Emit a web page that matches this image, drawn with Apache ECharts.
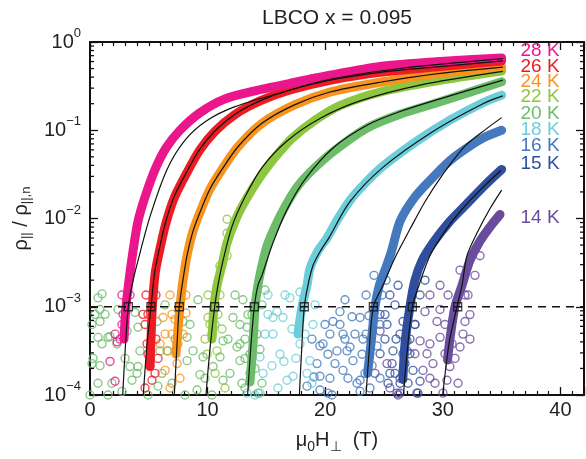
<!DOCTYPE html>
<html><head><meta charset="utf-8">
<script src="https://cdn.jsdelivr.net/npm/echarts@6/dist/echarts.min.js"></script>
<style>html,body{margin:0;padding:0;background:#fff}#c{width:586px;height:459px}</style>
</head><body><div id="c"></div>
<script>
const FONT = '"Liberation Sans", Arial, Helvetica, sans-serif';
const INK = '#231f20';

const temps = ['14 K','15 K','16 K','18 K','20 K','22 K','24 K','26 K','28 K'];
const colors = ['#6a4c9c','#2f4f9e','#4479bd','#6dcedb','#6bbd6a','#8dc63f','#f7941d','#ed1c24','#ec168c'];
const labelY = [0.0101, 0.042, 0.066, 0.102, 0.152, 0.24, 0.357, 0.53, 0.79];

const xTicks = [0, 10, 20, 30, 40];
const yTicks = [1e-4, 1e-3, 1e-2, 1e-1, 1];
const hcX = [31.26, 27.4, 24.09, 18.22, 13.97, 10.6, 7.59, 5.19, 3.26];
const hcY = [1e-3, 1e-3, 1e-3, 1e-3, 1e-3, 1e-3, 1e-3, 1e-3, 1e-3];
const dashX = [0, 42];
const dashY = [1e-3, 1e-3];

// dense data bands [field T, rho ratio]
const band14 = [[30.4,2.5e-4],[30.6,4.3e-4],[31.03,1e-3],[31.63,1.75e-3],[32.3,3.33e-3],[33.16,5.55e-3],[34.18,8.6e-3],[34.86,0.0111]];
const band15 = [[26.6,1.5e-4],[26.78,3.8e-4],[27.2,1e-3],[27.63,2.0e-3],[28.23,3.33e-3],[29.16,5.3e-3],[30.6,9.3e-3],[32.05,0.0147],[33.58,0.0239],[35.0,0.036]];
const band16 = [[23.6,1.76e-4],[23.98,4.9e-4],[24.23,1e-3],[24.6,1.75e-3],[25.08,2.6e-3],[25.6,4.1e-3],[26.36,9.3e-3],[27.63,0.0176],[29.16,0.0293],[30.6,0.0453],[32.05,0.063],[33.58,0.0836],[35.0,0.1]];
const band18 = [[17.68,4.9e-4],[18.02,1e-3],[18.45,1.75e-3],[18.7,2.71e-3],[19.38,4.3e-3],[20.15,6.0e-3],[21.0,0.0095],[22.1,0.016],[23.38,0.025],[24.9,0.039],[27.8,0.0755],[30.6,0.13],[33.4,0.205],[35.0,0.25]];
const band20 = [[13.6,1.4e-4],[13.86,3.8e-4],[14.03,1e-3],[14.28,1.75e-3],[14.62,2.93e-3],[15.05,4.9e-3],[15.73,8.1e-3],[16.58,0.0136],[17.6,0.0227],[18.7,0.0333],[20.66,0.057],[23.55,0.106],[26.36,0.152],[29.76,0.21],[35.0,0.355]];
const band22 = [[10.37,4.3e-4],[10.54,1e-3],[10.8,1.75e-3],[11.22,2.93e-3],[11.65,5.3e-3],[12.5,0.0105],[13.4,0.0176],[14.45,0.0293],[15.7,0.0489],[17.2,0.0815],[19.1,0.129],[21.25,0.19],[24.66,0.271],[29.76,0.369],[35.0,0.47]];
const band24 = [[7.31,2.9e-4],[7.48,5.5e-4],[7.65,1e-3],[7.91,2.0e-3],[8.25,3.8e-3],[8.76,7.2e-3],[9.44,0.0126],[10.2,0.0216],[11.22,0.036],[12.58,0.065],[14.62,0.12],[17.43,0.195],[20.4,0.271],[24.66,0.35],[29.76,0.441],[35.0,0.52]];
const band26 = [[5.10,2.1e-4],[5.2,4.9e-4],[5.3,1e-3],[5.55,2.45e-3],[6.0,4.9e-3],[6.5,9.3e-3],[7.2,0.0176],[8.25,0.0333],[9.35,0.06],[10.63,0.0975],[12.33,0.151],[14.45,0.215],[17.0,0.286],[20.4,0.369],[24.66,0.453],[29.76,0.527],[35.0,0.61]];
const band28 = [[2.89,4.3e-4],[3.06,1e-3],[3.32,2.0e-3],[3.66,4.3e-3],[4.08,9.3e-3],[4.68,0.0176],[5.53,0.036],[6.46,0.063],[7.65,0.1],[9.35,0.158],[11.48,0.227],[14.03,0.28],[17.0,0.34],[20.4,0.42],[24.66,0.527],[29.76,0.60],[35.0,0.66]];

// fitted curves
const fit14 = [[29.99,1e-4],[30.52,3.78e-4],[31.2,1e-3],[31.63,1.75e-3],[32.05,3.78e-3],[32.99,7.2e-3],[34.0,0.0129],[35.0,0.021]];
const fit15 = [[26.65,1e-4],[26.95,2.93e-4],[27.4,1e-3],[27.89,1.63e-3],[28.9,3.78e-3],[30.18,7.2e-3],[31.46,0.012],[33.16,0.021],[34.94,0.035]];
const fit16 = [[23.47,1e-4],[23.72,2.93e-4],[24.09,1e-3],[24.91,1.75e-3],[25.93,3.6e-3],[27.2,7.55e-3],[28.48,0.0155],[30.0,0.0316],[31.9,0.0664],[33.75,0.105],[35.0,0.139]];
const fit18 = [[17.8,1e-4],[18.02,3.78e-4],[18.22,1e-3],[18.53,1.75e-3],[18.96,2.93e-3],[19.6,4.3e-3],[20.3,6.0e-3],[22.1,0.0155],[24.9,0.038],[29.16,0.097],[33.41,0.2],[35.1,0.245]];
const fit20 = [[13.4,1e-4],[13.69,3.78e-4],[13.97,1e-3],[14.28,1.75e-3],[14.62,2.27e-3],[15.56,5.3e-3],[16.75,0.0126],[18.28,0.0278],[20.66,0.063],[23.55,0.114],[26.36,0.163],[29.76,0.227],[35.1,0.37]];
const fit22 = [[9.86,1e-4],[10.2,3.33e-4],[10.6,1e-3],[10.88,1.75e-3],[11.31,3.33e-3],[12.07,8.1e-3],[13.18,0.0176],[14.62,0.0378],[16.75,0.0755],[19.55,0.136],[22.96,0.215],[28.06,0.325],[35.1,0.464]];
const fit24 = [[7.17,1e-4],[7.4,3.78e-4],[7.59,1e-3],[7.9,2.0e-3],[8.25,3.8e-3],[8.76,7.2e-3],[9.44,0.0126],[10.2,0.0216],[11.22,0.036],[12.58,0.065],[14.62,0.12],[17.43,0.195],[20.4,0.271],[24.66,0.35],[29.76,0.441],[35.1,0.52]];
const fit26 = [[4.53,1e-4],[4.85,3.78e-4],[5.19,1e-3],[5.5,2.45e-3],[5.95,4.9e-3],[6.45,9.3e-3],[7.15,0.0176],[8.2,0.0333],[9.3,0.06],[10.6,0.0975],[12.3,0.151],[14.45,0.215],[17.0,0.286],[20.4,0.369],[24.66,0.453],[29.76,0.527],[35.1,0.61]];
const fit28 = [[2.78,1e-4],[3.02,3.78e-4],[3.26,1e-3],[3.57,1.75e-3],[4.08,3.33e-3],[5.10,0.0105],[6.55,0.036],[8.08,0.0775],[9.95,0.129],[12.33,0.185],[16.15,0.264],[20.4,0.378],[26.36,0.501],[35.1,0.647]];

// scattered low-level points
const noise14 = [[28.06,4.1e-4],[28.65,2.93e-4],[29.16,2.27e-4],[28.31,1.9e-4],[29.76,4.5e-4],[29.5,6.8e-4],[30.6,2.1e-4],[31.46,3.5e-4],[31.71,4.9e-4],[31.88,6.8e-4],[30.35,1.47e-4],[30.01,1.05e-4],[28.48,8.8e-4],[29.33,1.36e-4],[24.66,5.3e-4],[25.25,2.27e-4],[26.95,3.16e-4],[26.36,1.05e-4],[24.23,1.76e-4],[26.19,1e-4],[26.36,1.55e-4],[27.63,6.3e-4],[28.9,1.36e-3],[29.76,1.75e-3],[32.14,1.36e-3],
  [30.18,6.3e-4],[30.78,3.8e-4],[30.44,1.36e-3],[31.88,1.36e-3],[32.3,8.15e-4],[31.46,2.6e-3],[32.73,2.27e-3],[33.16,3.78e-3],[29.76,9.3e-4],[31.03,2.6e-4],
  [27.63,2.93e-4],[28.9,3.8e-4],[30.18,2.93e-4],[28.9,1.55e-4],[31.29,1.36e-4],[32.3,4.3e-4],[27.89,1.05e-4],[25.5,1.2e-4]];
const noise15 = [[25.25,6.3e-4],[25.76,3.16e-4],[25.5,1.76e-4],[26.36,1.36e-4],[26.1,1.05e-4],[26.61,6.8e-4],[26.95,4.1e-4],[27.2,2.93e-4],[27.46,1.9e-4],[28.06,1.43e-4],[27.8,1.05e-4],[26.78,2.27e-4],[25.93,1.05e-3],[25.08,4.3e-4],[24.66,2.93e-4],
  [25.5,1.36e-3],[26.19,1.75e-3],[25.08,8.15e-4],[26.36,4.9e-4],[25.68,2.27e-4],[27.63,6.3e-4],[28.06,1.36e-3],[28.48,2.0e-3],[27.2,4.3e-4],[25.34,1.36e-4],
  [26.02,4.3e-4],[26.61,2.93e-4],[25.93,1.76e-4],[27.04,1.36e-4],[24.66,8.2e-4]];
const noise16 = [[19.3,2.27e-4],[19.55,1.63e-4],[19.81,3.8e-4],[20.4,4.9e-4],[21.0,3.16e-4],[21.25,6.3e-4],[21.51,1.9e-4],[21.25,8.8e-4],[22.1,3.5e-4],[22.36,2.45e-4],[22.7,1.36e-4],[20.23,1.05e-4],[18.45,1.26e-4],[22.96,7.55e-4],[20.66,6.8e-4],[19.55,1.14e-4],[20.57,1e-4],[19.04,1.6e-4],[20.4,1.55e-4],[19.55,3.6e-4],[21.85,3.16e-4],[22.28,7.7e-4],[21.51,4.9e-4],[22.96,1.47e-4],[23.38,1.76e-4],[23.8,1.2e-4],[23.13,2.9e-4],[23.47,4.9e-4],
  [23.47,1.36e-3],[23.72,7.9e-4],[24.66,6.3e-4],[23.21,4.3e-4],[24.4,3.6e-4],[23.98,2.15e-4],[24.66,1.55e-4],[22.96,1.1e-4],[24.83,1.36e-3],[25.17,2.0e-3],[24.15,2.27e-3],
  [18.87,4.3e-4],[19.98,6.3e-4],[21.68,4.3e-4],[20.83,2.27e-4],[21.93,1.55e-4],[22.53,4.9e-4],[20.23,2.9e-4],[21.68,1.2e-3]];
const noise18 = [[15.56,7.55e-4],[16.41,7.55e-4],[15.56,4.9e-4],[16.15,2.9e-4],[15.47,2.15e-4],[16.49,2.4e-4],[16.75,1.47e-4],[18.7,2.45e-4],[18.45,1.76e-4],[17.26,1.63e-4],[17.85,3.8e-4],[18.96,6.3e-4],[14.45,2.7e-4],[14.45,1.05e-4],[13.35,1.05e-4],[17.0,1.26e-3],[17.85,1.47e-3],[15.9,8.8e-4],[14.03,1e-4],[14.88,4.9e-4],[15.13,1.36e-3],
  [15.13,8.2e-4],[17.17,5.6e-4],[18.28,4.9e-4],[17.51,2.6e-4],[18.87,1.36e-4],[15.98,1.2e-4],[14.71,1.76e-4],[19.13,1.05e-3],[16.58,1.36e-3]];
const noise20 = [[0.68,1.26e-3],[0.85,9.3e-4],[0.85,6.8e-4],[0.68,4.5e-4],[1.02,3.8e-4],[0.26,2.6e-4],[0.85,2.15e-4],[0.68,1.36e-4],[1.53,1e-4],[1.53,4.5e-4],[2.30,3.8e-4],[3.40,2.1e-4],[3.57,1.47e-4],[4.08,5.85e-4],[4.25,3.16e-4],[4.08,2.1e-4],[5.70,6.8e-4],[5.95,3.16e-4],[6.12,1.76e-4],[5.78,1.26e-4],[4.93,1e-4],[6.55,3.16e-4],[6.97,1.36e-4],[8.25,2.45e-4],[8.25,4.5e-4],[8.76,3.16e-4],[9.35,1.7e-4],[9.10,1.14e-4],[7.91,6.8e-4],[9.61,2.7e-4],[10.46,2.1e-4],[11.05,2.7e-4],[11.31,1.47e-4],[11.31,4.1e-4],[12.16,7.55e-4],[12.50,3.5e-4],[12.75,2.45e-4],[11.90,1.76e-4],[12.92,1.36e-4],[13.35,5.85e-4],[0.17,6.3e-4],[1.02,1.4e-3],[0.17,2.27e-4],[1.70,4.6e-4],[4.0,1.76e-4],[3.15,5.3e-4],[13.18,4.3e-4],[13.6,2.9e-4],[14.03,2.0e-4],[13.18,1.2e-4],[14.28,1.05e-4],[14.62,1.36e-4],[12.75,6.3e-4],[13.77,8.2e-4],
  [13.0,1.2e-3],[13.43,8.15e-4],[14.62,1.05e-3],[14.88,1.55e-3],[13.18,2.6e-4],[14.2,4.9e-4],[13.6,1.76e-4],[12.75,3.8e-4],[14.45,3.3e-4],
  [0.43,8.2e-4],[1.28,8.2e-4],[2.38,9.3e-4],[2.98,2.6e-4],[6.38,1.05e-3],[7.23,4.3e-4],[8.5,6.3e-4],[9.18,1.2e-3],[9.78,1.55e-4],[10.63,6.3e-4],[11.73,4.3e-4],[12.33,1.36e-3],[2.72,1.1e-4],[1.87,1.36e-4],[0.0,1e-4],[8.08,1e-4],[10.37,1e-4],[3.83,8.6e-4]];
const noise22 = [[10.03,7.55e-4],[10.37,4.9e-4],[9.95,2.9e-4],[10.8,3.16e-4],[11.22,5.6e-4],[9.78,4.3e-4],[11.65,9.8e-3],[11.65,6.8e-3],[11.65,3.8e-3],[11.05,2.9e-3],[10.63,1.76e-4],[11.48,1.2e-4],
  [10.03,1.36e-3],[11.05,1.36e-3],[10.2,6.3e-4],[10.88,8.2e-4]];
const noise24 = [[6.63,3.16e-4],[6.38,1.9e-4],[7.40,2.27e-4],[7.65,1.55e-4],[5.95,3.8e-4],[6.97,4.9e-4],[6.21,7.55e-4],[7.91,4.9e-4],[7.23,7.2e-4],[6.80,1.2e-4],[8.16,8.5e-4],
  [6.8,1.36e-3],[6.97,8.2e-4],[8.16,1.36e-3],[6.38,4.9e-4],[7.48,3.8e-4]];
const noise26 = [[4.68,6.3e-4],[4.85,3.8e-4],[5.10,2.15e-4],[5.27,1.47e-4],[5.53,1.76e-4],[4.93,2.9e-4],[5.78,2.6e-4],[4.68,1.2e-4],[4.5,8.2e-4],
  [4.76,1.36e-3],[5.61,1.36e-3],[4.93,8.2e-4],[5.61,4.3e-4]];
const noise28 = [[2.13,4.9e-4],[2.30,4.0e-4],[1.70,2.4e-4],[2.13,1.43e-4],[2.72,6.3e-4],[2.55,4.3e-4],
  [2.72,1.36e-3],[3.4,1.36e-3],[2.81,8.2e-4]];

const bands = [band14, band15, band16, band18, band20, band22, band24, band26, band28];
const fits = [fit14, fit15, fit16, fit18, fit20, fit22, fit24, fit26, fit28];
const noises = [noise14, noise15, noise16, noise18, noise20, noise22, noise24, noise26, noise28];

const minorY = [];
for (let e = -4; e < 0; e++) for (let m = 2; m <= 9; m++) minorY.push([0, m * Math.pow(10, e)]);

const chart = echarts.init(document.getElementById('c'), null, {renderer: 'canvas'});
const series = [];
noises.forEach((d, i) => series.push({
  type: 'scatter', data: d, symbol: 'circle', symbolSize: 8, z: 2,
  itemStyle: {color: 'rgba(0,0,0,0)', borderColor: colors[i], borderWidth: 1.4}
}));
bands.forEach((d, i) => series.push({
  type: 'line', data: d, showSymbol: false, smooth: 0.25, z: 3,
  lineStyle: {color: colors[i], width: 9, cap: 'round', join: 'round'}
}));
fits.forEach((d) => series.push({
  type: 'line', data: d, showSymbol: false, smooth: 0.3, z: 4,
  lineStyle: {color: '#111', width: 1.2}
}));
series.push({
  type: 'line', data: dashX.map((x, i) => [x, dashY[i]]), showSymbol: false, z: 5,
  lineStyle: {color: '#111', width: 1.3, type: [8, 6]}
});
series.push({
  type: 'scatter', data: hcX.map((x, i) => [x, hcY[i]]), symbol: 'rect', symbolSize: 8, z: 6,
  itemStyle: {color: 'rgba(0,0,0,0)', borderColor: '#111', borderWidth: 1.3}
});
series.push({
  type: 'custom', data: minorY, z: 7, silent: true, clip: false,
  renderItem: function (params, api) {
    const v = api.value(1);
    const pl = api.coord([0, v]);
    const pr = api.coord([42, v]);
    return {type: 'group', children: [
      {type: 'line', shape: {x1: pl[0], y1: pl[1], x2: pl[0] + 4, y2: pl[1]}, style: {stroke: '#111', lineWidth: 1.3}},
      {type: 'line', shape: {x1: pr[0] - 4, y1: pr[1], x2: pr[0], y2: pr[1]}, style: {stroke: '#111', lineWidth: 1.3}}
    ]};
  }
});

const axisLine = {show: true, onZero: false, lineStyle: {color: '#111', width: 2}};
const tick = {show: true, inside: true, length: 8, lineStyle: {color: '#111', width: 1.3}};
const minorTick = {show: true, splitNumber: 10, length: 4, lineStyle: {color: '#111', width: 1.2}};

const graphics = temps.map((t, i) => ({
  type: 'text', x: 520, y: 0, z: 10,
  style: {text: t, fill: colors[i], font: '19px ' + FONT, textVerticalAlign: 'middle', textAlign: 'left'}
}));
graphics.push({type: 'text', x: 337, y: 18, style: {text: 'LBCO x = 0.095', fill: INK, font: '21px ' + FONT, textAlign: 'center', textVerticalAlign: 'middle'}});

chart.setOption({
  animation: false,
  backgroundColor: '#fff',
  grid: {left: 90, right: 2, top: 42, bottom: 57},
  xAxis: [{
    type: 'value', min: 0, max: 42, interval: 10, position: 'bottom',
    axisLine, axisTick: tick, minorTick, splitLine: {show: false},
    axisLabel: {fontSize: 20, fontFamily: FONT, color: INK, margin: 5, showMaxLabel: false,
      formatter: v => xTicks.includes(v) ? String(v) : ''},
    name: '{a|μ}{s|0}{a|H}{s|⊥}{a|  (T)}', nameLocation: 'middle', nameGap: 31,
    nameTextStyle: {rich: {a: {fontSize: 20, fontFamily: FONT, color: INK}, s: {fontSize: 14, fontFamily: FONT, color: INK, padding: [14, 0, 0, 0]}}}
  }, {
    type: 'value', min: 0, max: 42, interval: 10, position: 'top',
    axisLine, axisTick: tick, minorTick, splitLine: {show: false}, axisLabel: {show: false}
  }],
  yAxis: [{
    type: 'log', logBase: 10, min: 1e-4, max: 1, position: 'left',
    axisLine, axisTick: tick, minorTick: {show: false}, splitLine: {show: false},
    axisLabel: {margin: 9, formatter: v => {
        const e = Math.round(Math.log10(v));
        if (!yTicks.some(t => Math.abs(Math.log10(t) - e) < 1e-6)) return '';
        return '{b|10}{s|' + (e === 0 ? '0' : '\u2212' + (-e)) + '}';
      },
      rich: {b: {fontSize: 20, fontFamily: FONT, color: INK}, s: {fontSize: 13, fontFamily: FONT, color: INK, padding: [0, 0, 17, 0]}}},
    name: '{a|ρ}{s|||}{a| / ρ}{s|||,n}', nameLocation: 'middle', nameGap: 53,
    nameTextStyle: {rich: {a: {fontSize: 20, fontFamily: FONT, color: INK}, s: {fontSize: 13, fontFamily: FONT, color: INK, padding: [10, 0, 0, 0]}}}
  }, {
    type: 'log', logBase: 10, min: 1e-4, max: 1, position: 'right',
    axisLine, axisTick: tick, minorTick: {show: false}, splitLine: {show: false}, axisLabel: {show: false}
  }],
  series: series,
  graphic: graphics
});

// place the temperature labels through the y scale
const upd = temps.map((t, i) => {
  const p = chart.convertToPixel({xAxisIndex: 0, yAxisIndex: 0}, [36.6, labelY[i]]);
  return {x: p[0], y: p[1]};
});
const g2 = graphics.map((g, i) => i < temps.length ? Object.assign({}, g, upd[i]) : g);
chart.setOption({graphic: g2}, {replaceMerge: ['graphic']});
</script>
</body></html>
